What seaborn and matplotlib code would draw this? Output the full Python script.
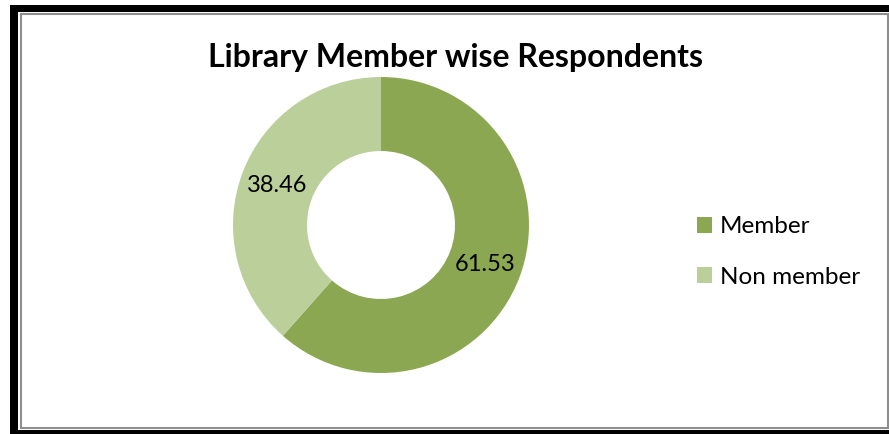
import matplotlib
matplotlib.use("Agg")
import matplotlib.pyplot as plt
from matplotlib.patches import Rectangle, Patch
import seaborn as sns

categories = ["Member", "Non member"]
values = [61.53, 38.46]
value_labels = ["61.53", "38.46"]
title = "Library Member wise Respondents"

sns.set_theme(style="white")
plt.rcParams['font.family'] = ['Lato', 'DejaVu Sans']
plt.rcParams['text.color'] = 'black'
colors = ["#8CA751", "#BBCF9A"]

W, H = 889, 434
fig = plt.figure(figsize=(W / 100, H / 100), dpi=100)
fig.patch.set_facecolor("white")

def px_rect(x0, y0, x1, y1, **kw):
    return Rectangle((x0 / W, 1 - y1 / H), (x1 - x0) / W, (y1 - y0) / H,
                     transform=fig.transFigure, **kw)

# outer black frame and inner chart area
fig.patches.append(px_rect(10, 5, 900, 440, facecolor="black", edgecolor="none", zorder=-3))
fig.patches.append(px_rect(18, 12, 900, 430, facecolor="white", edgecolor="none", zorder=-2))
fig.patches.append(px_rect(21, 14, 888, 428, facecolor="white", edgecolor="#8e8e8e",
                          linewidth=1.5, zorder=-1))

cx, cy, r = 381, 225, 148
ax = fig.add_axes([(cx - r) / W, 1 - (cy + r) / H, 2 * r / W, 2 * r / H])
ax.set_zorder(1)
it = iter(value_labels)
wedges, texts, autotexts = ax.pie(values, colors=colors, startangle=90, counterclock=False,
                                  radius=1, wedgeprops=dict(width=0.5, edgecolor="white", linewidth=0),
                                  autopct=lambda p: next(it), pctdistance=0.75,
                                  textprops=dict(fontsize=17, color="black"))
ax.set_xlim(-1, 1)
ax.set_ylim(-1, 1)
ax.set_aspect("equal")
ax.axis("off")

fig.text(455 / W, 1 - 57 / H, title, ha="center", va="center", fontsize=23,
         fontweight="bold", color="black")

handles = [Patch(facecolor=c, edgecolor="none") for c in colors]
leg = fig.legend(handles, categories, loc="center left", bbox_to_anchor=(697 / W, 1 - 252 / H),
                 frameon=False, fontsize=17.5, handlelength=0.6, handleheight=0.6,
                 handletextpad=0.35, labelspacing=1.2, borderpad=0, borderaxespad=0)
for t in leg.get_texts():
    t.set_color("black")

fig.savefig("out.png", dpi=100, facecolor="white")
